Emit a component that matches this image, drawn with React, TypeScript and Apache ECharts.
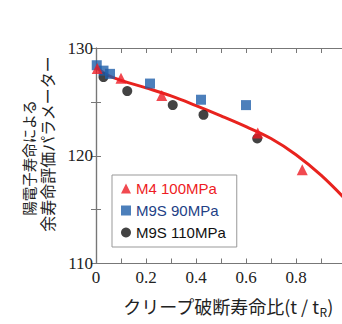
import React, { useEffect, useRef } from "react";
import * as echarts from "echarts";

const m4Points: [number, number][] = [
  [0.005, 128.1],
  [0.1, 127.2],
  [0.263, 125.6],
  [0.647, 122.1],
  [0.825, 118.7],
];
const m9s90Points: [number, number][] = [
  [0.003, 128.4],
  [0.03, 127.9],
  [0.056, 127.6],
  [0.216, 126.7],
  [0.42, 125.2],
  [0.6, 124.7],
];
const m9s110Points: [number, number][] = [
  [0.03, 127.3],
  [0.125, 126.0],
  [0.307, 124.7],
  [0.43, 123.8],
  [0.645, 121.6],
];
const fitCurve: [number, number][] = [
  [0, 128.2],
  [0.05, 127.45],
  [0.1, 127.0],
  [0.2, 126.3],
  [0.3, 125.55],
  [0.4, 124.65],
  [0.5, 123.7],
  [0.6, 122.7],
  [0.7, 121.6],
  [0.8, 120.1],
  [0.9, 118.2],
  [1.0, 115.9],
];
const seriesNames = ["M4 100MPa", "M9S 90MPa", "M9S 110MPa"];
const yTitleLines = ["陽電子寿命による", "余寿命評価パラメーター"];
const xTitle = "クリープ破断寿命比(t / t";

export default function App() {
  const ref = useRef<HTMLDivElement>(null);
  useEffect(() => {
    if (!ref.current) return;
    const chart = echarts.init(ref.current, undefined, { renderer: "svg" });
    const axisColor = "#777";
    const serif = "Liberation Serif";
    const cjk = "Noto Sans CJK JP";
    const red = "#ee1c24";
    const blue = "#1f5faa";
    const black = "#141414";
    chart.setOption({
      animation: false,
      backgroundColor: "#fff",
      grid: { left: 96, top: 48, width: 250, height: 215.5 },
      xAxis: [
        {
          type: "value",
          min: 0,
          max: 1,
          interval: 0.1,
          axisLine: { lineStyle: { color: axisColor, width: 1.2 } },
          axisTick: { inside: true, length: 5, lineStyle: { color: axisColor } },
          splitLine: { show: false },
          axisLabel: {
            margin: 5,
            fontFamily: serif,
            fontSize: 17,
            color: "#222",
            formatter: (v: number) => {
              const k = Math.round(v * 10);
              if (k % 2 !== 0) return "";
              return k === 0 ? "0" : k === 10 ? "1" : String(k / 10);
            },
          },
        },
        {
          type: "value",
          position: "top",
          min: 0,
          max: 1,
          interval: 0.1,
          axisLine: { show: true, lineStyle: { color: axisColor, width: 1.2 } },
          axisTick: { inside: true, length: 5, lineStyle: { color: axisColor } },
          splitLine: { show: false },
          axisLabel: { show: false },
        },
      ],
      yAxis: [
        {
          type: "value",
          min: 110,
          max: 130,
          interval: 5,
          axisLine: { show: true, lineStyle: { color: axisColor, width: 1.2 } },
          axisTick: { inside: true, length: 5, lineStyle: { color: axisColor } },
          splitLine: { show: false },
          axisLabel: {
            margin: 3,
            fontFamily: serif,
            fontSize: 17,
            color: "#222",
            formatter: (v: number) => (v % 10 === 0 ? String(v) : ""),
          },
        },
        {
          type: "value",
          position: "right",
          min: 110,
          max: 130,
          interval: 5,
          axisLine: { show: true, lineStyle: { color: axisColor, width: 1.2 } },
          axisTick: { inside: true, length: 5, lineStyle: { color: axisColor } },
          splitLine: { show: false },
          axisLabel: { show: false },
        },
      ],
      legend: {
        orient: "vertical",
        left: 112,
        top: 175,
        padding: [6, 11, 7, 9],
        borderColor: "#999",
        borderWidth: 1,
        itemWidth: 10,
        itemHeight: 10,
        itemGap: 7,
        textStyle: { fontFamily: "Liberation Sans", fontSize: 15 },
        data: [
          { name: seriesNames[0], icon: "triangle", textStyle: { color: red } },
          { name: seriesNames[1], icon: "rect", textStyle: { color: "#233f86" } },
          { name: seriesNames[2], icon: "circle", textStyle: { color: "#111" } },
        ],
      },
      series: [
        {
          type: "line",
          name: "fit",
          data: fitCurve,
          smooth: 0.4,
          showSymbol: false,
          lineStyle: { color: "#e8231e", width: 3 },
          z: 1,
        },
        {
          type: "scatter",
          name: seriesNames[2],
          data: m9s110Points,
          symbol: "circle",
          symbolSize: 10,
          itemStyle: { color: black },
          z: 2,
        },
        {
          type: "scatter",
          name: seriesNames[1],
          data: m9s90Points,
          symbol: "rect",
          symbolSize: 10,
          itemStyle: { color: blue },
          z: 3,
        },
        {
          type: "scatter",
          name: seriesNames[0],
          data: m4Points,
          symbol: "triangle",
          symbolSize: 11,
          itemStyle: { color: red },
          z: 4,
        },
      ],
      graphic: [
        {
          type: "text",
          x: 28,
          y: 158,
          rotation: Math.PI / 2,
          style: {
            text: yTitleLines[0],
            fontFamily: cjk,
            fontSize: 14.5,
            fill: "#222",
            align: "center",
            verticalAlign: "middle",
          },
        },
        {
          type: "text",
          x: 47,
          y: 144,
          rotation: Math.PI / 2,
          style: {
            text: yTitleLines[1],
            fontFamily: cjk,
            fontSize: 16,
            fill: "#222",
            align: "center",
            verticalAlign: "middle",
          },
        },
        {
          type: "text",
          x: 228,
          y: 306,
          style: {
            text: "{m|" + xTitle + "}{s|R}{m|)}",
            align: "center",
            verticalAlign: "middle",
            rich: {
              m: { fontFamily: cjk, fontSize: 18, fill: "#222", verticalAlign: "middle" },
              s: { fontFamily: cjk, fontSize: 12, fill: "#222", padding: [10, 0, 0, 0] },
            },
          },
        },
      ],
    });
    return () => chart.dispose();
  }, []);
  return (
    <div
      style={{
        position: "absolute",
        left: 0,
        top: 0,
        width: 342,
        height: 324,
        overflow: "hidden",
      }}
    >
      <div ref={ref} style={{ width: 360, height: 324 }} />
    </div>
  );
}
